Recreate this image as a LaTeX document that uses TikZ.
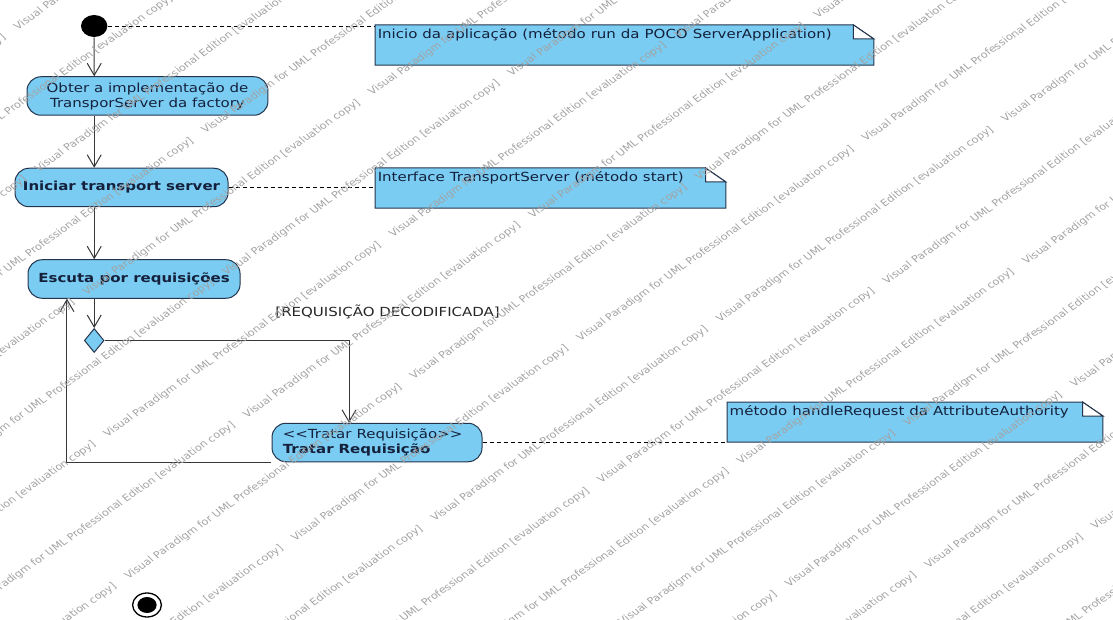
\documentclass[tikz,border=0pt]{standalone}
\usepackage{fontspec}
\setmainfont{DejaVu Sans}
\usetikzlibrary{arrows.meta, shapes.geometric, backgrounds}

\definecolor{azulacao}{RGB}{122,204,242}
\definecolor{bordaacao}{RGB}{36,52,76}
\definecolor{textoacao}{RGB}{20,32,60}
\definecolor{linha}{RGB}{55,55,55}

\newcommand{\marcadagua}{Visual Paradigm for UML Professional Edition [evaluation copy]\quad\ }

\begin{document}
\begin{tikzpicture}[x=1pt, y=1pt, xscale=1.2, transform shape, semithick]
    \tikzstyle{action}=[
        rectangle, rounded corners = 14pt,
        draw = bordaacao, fill = azulacao, text = textoacao,
        line width = 1pt,
        minimum height = 38.5pt,
        inner sep = 0pt,
        font = \fontsize{12.5}{15}\selectfont
    ]
    \tikzstyle{nota}=[
        anchor = north west, align = left,
        inner xsep = 2pt, inner ysep = 3pt,
        text height = 10pt, text depth = 23.5pt,
        text = textoacao,
        font = \fontsize{12.5}{15}\selectfont
    ]
    \tikzstyle{fluxo}=[draw = linha, line width = 1pt,
        -{Straight Barb[length = 12pt, width = 14pt]}]
    \tikzstyle{ligacao}=[draw = black, line width = 0.9pt,
        dash pattern = on 4pt off 3pt]
    \tikzstyle{marca}=[anchor = west, inner sep = 0pt, text = black!36,
        font = \fontsize{9.5}{11}\selectfont]

    \useasboundingbox (0,0) rectangle (927.5,-620);

    % activity nodes
    \node[circle, fill = black, minimum size = 22pt, inner sep = 0pt] (inicio) at (78.5,-26) {};
    \node[action, minimum width = 200.8pt, align = center] (obter) at (122.9,-96)
        {Obter a implementação de\\TransporServer da factory};
    \node[action, minimum width = 177.5pt, font = \fontsize{12.5}{15}\selectfont\bfseries] (iniciar) at (101.25,-187.5)
        {Iniciar transport server};
    \node[action, minimum width = 176.7pt, font = \fontsize{12.5}{15}\selectfont\bfseries] (escuta) at (111.7,-279)
        {Escuta por requisições};
    \node[diamond, draw = bordaacao, fill = azulacao, line width = 1pt,
          minimum width = 16.5pt, minimum height = 24pt, inner sep = 0pt] (decisao) at (78.5,-340.5) {};
    \node[action, minimum width = 175pt, text width = 157pt, align = left] (tratar) at (314.2,-442.5)
        {<\kern0pt<Tratar Requisição>\kern0pt>\\\textbf{Tratar Requisição}};
    \node[circle, draw = black, line width = 1.3pt, minimum size = 24pt, inner sep = 0pt] (fim) at (122.5,-605) {};
    \fill (fim.center) circle [radius = 8pt];

    \node[anchor = west, inner sep = 0pt, text = black!85, font = \fontsize{12.5}{15}\selectfont]
        (guarda) at (229.2,-312) {[REQUISIÇÃO DECODIFICADA]};

    % notes
    \node[nota, text width = 411pt] (nota1) at (312.5,-25)
        {Inicio da aplicação (método run da POCO ServerApplication)};
    \node[nota, text width = 287.7pt] (nota2) at (312.5,-168)
        {Interface TransportServer (método start)};
    \node[nota, text width = 308.5pt] (nota3) at (605.8,-402)
        {método handleRequest da AttributeAuthority};

    \begin{scope}[on background layer]
        \foreach \n in {nota1, nota2, nota3} {
            \filldraw[fill = azulacao, draw = bordaacao, line width = 1pt]
                (\n.south west) -- (\n.north west) -- ([xshift = -17pt]\n.north east)
                -- ([yshift = -14pt]\n.north east) -- (\n.south east) -- cycle;
            \filldraw[fill = white, draw = bordaacao, line width = 1pt]
                ([xshift = -17pt]\n.north east) -- ([xshift = -17pt, yshift = -14pt]\n.north east)
                -- ([yshift = -14pt]\n.north east) -- cycle;
        }
    \end{scope}

    \coordinate (desvio) at (290.8,0);
    \coordinate (volta) at (55.8,0);

    % control flow
    \path[fluxo] (inicio) -- (inicio |- obter.north);
    \path[fluxo] (obter.south -| inicio) -- (iniciar.north -| inicio);
    \path[fluxo] (iniciar.south -| inicio) -- (escuta.north -| inicio);
    \path[fluxo] (escuta.south -| decisao) -- (decisao.north);
    \path[fluxo] (decisao.east) -| (desvio |- tratar.north);
    \path[fluxo] (tratar.south west) -| (volta |- escuta.south);

    % note links
    \path[ligacao] (inicio.east) -- (inicio.east -| nota1.west);
    \path[ligacao] (iniciar.east) -- (iniciar.east -| nota2.west);
    \path[ligacao] (tratar.east) -- (tratar.east -| nota3.west);

    % evaluation watermark
    \begin{scope}
        \clip (0,0) rectangle (927.5,-620);
        \begin{scope}[rotate = 40]
            \foreach \r [evaluate = \r as \desl using {mod(\r*131,340)}] in {0,...,19}
                \node[marca] (marca\r) at (-760+\desl, 30-60*\r)
                    {\marcadagua\marcadagua\marcadagua\marcadagua\marcadagua};
        \end{scope}
    \end{scope}
\end{tikzpicture}
\end{document}
